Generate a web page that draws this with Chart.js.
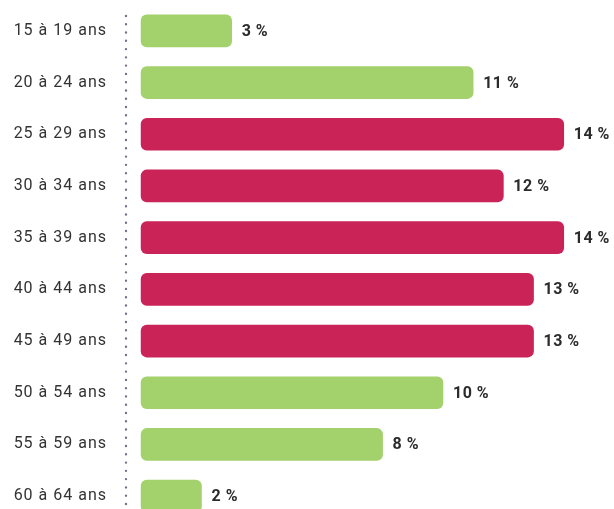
<!DOCTYPE html>
<html>
<head>
<meta charset="utf-8">
<script src="https://cdn.jsdelivr.net/npm/chart.js@4"></script>
<style>
html,body{margin:0;padding:0;background:#fff;overflow:hidden;}
#wrap{width:614px;height:522px;}
</style>
</head>
<body>
<div id="wrap"><canvas id="c" width="614" height="522"></canvas></div>
<script>
const categories = ['15 à 19 ans','20 à 24 ans','25 à 29 ans','30 à 34 ans','35 à 39 ans','40 à 44 ans','45 à 49 ans','50 à 54 ans','55 à 59 ans','60 à 64 ans'];
const shares = [3, 11, 14, 12, 14, 13, 13, 10, 8, 2];
const highlighted = ['25 à 29 ans','30 à 34 ans','35 à 39 ans','40 à 44 ans','45 à 49 ans'];

const GREEN = '#a3d16b';
const CRIMSON = '#c92357';
const barColors = categories.map(c => highlighted.includes(c) ? CRIMSON : GREEN);

const dottedAxis = {
  id: 'dottedAxis',
  beforeDatasetsDraw(chart) {
    const ctx = chart.ctx, a = chart.chartArea;
    ctx.save();
    ctx.strokeStyle = '#6d7587';
    ctx.lineWidth = 2.4;
    ctx.lineCap = 'round';
    ctx.setLineDash([0, 8.27]);
    ctx.beginPath();
    ctx.moveTo(a.left, 16);
    ctx.lineTo(a.left, a.bottom);
    ctx.stroke();
    ctx.restore();
  }
};

const valueLabels = {
  id: 'valueLabels',
  afterDatasetsDraw(chart) {
    const ctx = chart.ctx;
    const meta = chart.getDatasetMeta(0);
    ctx.save();
    ctx.letterSpacing = '0.5px';
    ctx.font = 'bold 16px Roboto';
    ctx.fillStyle = '#2b2b2b';
    ctx.textAlign = 'left';
    ctx.textBaseline = 'middle';
    meta.data.forEach((bar, i) => {
      ctx.fillText(shares[i] + ' %', bar.x + 10, bar.y + 1);
    });
    ctx.restore();
  }
};

const spacing = {
  id: 'spacing',
  beforeDraw(chart) { chart.ctx.letterSpacing = '1px'; }
};

new Chart(document.getElementById('c'), {
  type: 'bar',
  data: {
    labels: categories,
    datasets: [{
      data: shares,
      backgroundColor: barColors,
      borderRadius: 6,
      borderSkipped: false,
      barThickness: 32
    }]
  },
  options: {
    indexAxis: 'y',
    responsive: false,
    animation: false,
    layout: { padding: { top: 5, bottom: 0, right: 5, left: 0 } },
    plugins: { legend: { display: false }, tooltip: { enabled: false } },
    scales: {
      x: { display: false, min: -0.5, max: 15.5 },
      y: {
        grid: { display: false, drawTicks: false },
        border: { display: false },
        ticks: {
          color: '#333333',
          font: { family: 'Roboto', size: 16 },
          padding: 19
        },
        afterFit(scale) {
          scale.width = 126;
          scale.paddingTop = 0;
          scale.paddingBottom = 0;
        }
      }
    }
  },
  plugins: [spacing, dottedAxis, valueLabels]
});
</script>
</body>
</html>
